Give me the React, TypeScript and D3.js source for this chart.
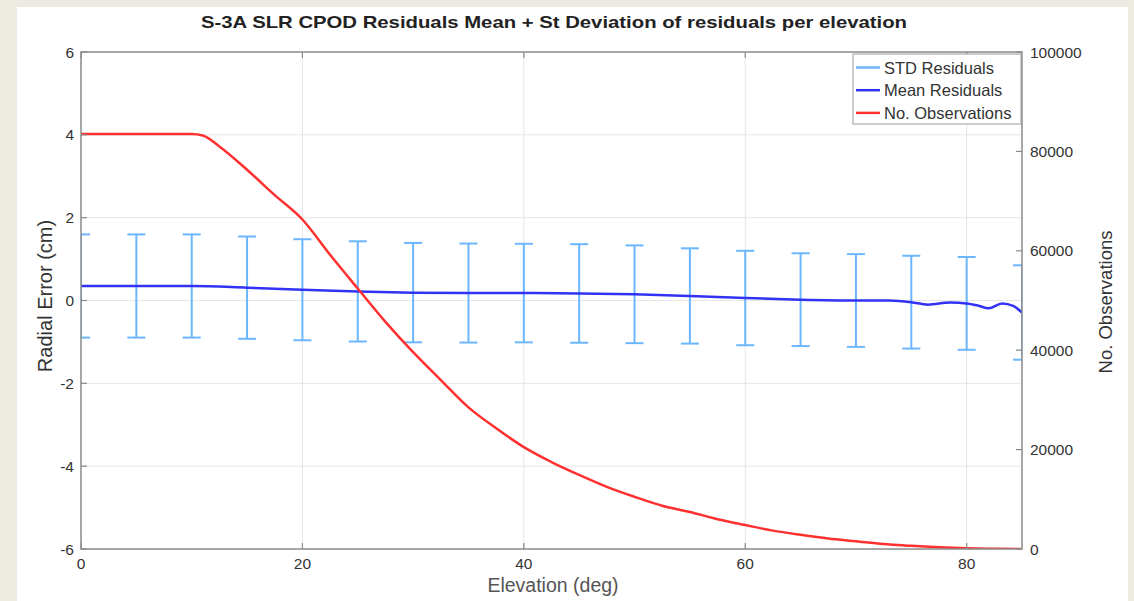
import * as d3 from 'd3';

// elevation (deg) of the error bars, with the std of residuals (cm)
const barElev = [0, 5, 10, 15, 20, 25, 30, 35, 40, 45, 50, 55, 60, 65, 70, 75, 80, 85];
const barStd = [1.245, 1.245, 1.245, 1.235, 1.22, 1.21, 1.2, 1.195, 1.19, 1.19, 1.18, 1.15, 1.14, 1.12, 1.12, 1.12, 1.12, 1.14];

// mean residuals line (cm)
const meanElev = [0, 5, 10, 15, 20, 25, 30, 35, 40, 45, 50, 55, 60, 65, 70, 73, 75, 76.5, 78.5, 80, 81, 82, 83.2, 84.2, 85];
const meanValues = [0.35, 0.35, 0.35, 0.31, 0.26, 0.22, 0.19, 0.18, 0.18, 0.17, 0.15, 0.11, 0.06, 0.02, 0.0, 0.0, -0.04, -0.1, -0.05, -0.07, -0.12, -0.19, -0.07, -0.13, -0.29];

// number of observations per elevation
const obsElev = [0, 5, 10, 11, 12.5, 15, 17.5, 20, 22.5, 25, 27.5, 30, 32.5, 35, 37.5, 40, 42.5, 45, 47.5, 50, 52.5, 55, 57.5, 60, 62.5, 65, 67.5, 70, 72.5, 75, 77.5, 80, 82.5, 85];
const obsValues = [83500, 83500, 83500, 83200, 81000, 76300, 71200, 66300, 59200, 52400, 45700, 39600, 34000, 28500, 24300, 20500, 17500, 14900, 12500, 10500, 8700, 7450, 6000, 4830, 3700, 2850, 2100, 1550, 1000, 650, 350, 150, 50, 0];

const xTicks = [0, 20, 40, 60, 80];
const yLeftTicks = [-6, -4, -2, 0, 2, 4, 6];
const yRightTicks = [0, 20000, 40000, 60000, 80000, 100000];

const legendItems = [
  { label: 'STD Residuals', color: '#6cb6ff' },
  { label: 'Mean Residuals', color: '#3232f5' },
  { label: 'No. Observations', color: '#ff3030' },
];

const W = 1134;
const H = 601;
const left = 81;
const right = 1022;
const top = 52;
const bottom = 549;
const font = 'Liberation Sans, Arial, sans-serif';

export default function App() {
  const x = d3.scaleLinear().domain([0, 85]).range([left, right]);
  const yL = d3.scaleLinear().domain([-6, 6]).range([bottom, top]);
  const yR = d3.scaleLinear().domain([0, 100000]).range([bottom, top]);

  const meanAt = (e: number) => meanValues[meanElev.indexOf(e)];

  const meanLine = d3
    .line<number>()
    .x((_, i) => x(meanElev[i]))
    .y((d) => yL(d))
    .curve(d3.curveMonotoneX)(meanValues)!;

  const obsLine = d3
    .line<number>()
    .x((_, i) => x(obsElev[i]))
    .y((d) => yR(d))
    .curve(d3.curveMonotoneX)(obsValues)!;

  const axisColor = '#8a8a8a';
  const tickLen = 6;

  return (
    <svg
      width={W}
      height={H}
      style={{ position: 'absolute', left: 0, top: 0, display: 'block' }}
      fontFamily={font}
    >
      <defs>
        <clipPath id="plot">
          <rect x={left} y={top} width={right - left} height={bottom - top} />
        </clipPath>
      </defs>
      <rect width={W} height={H} fill="#edeae1" />
      <rect x={17} y={7} width={1111} height={H - 7} fill="#ffffff" />

      <text
        x={554}
        y={28}
        textAnchor="middle"
        fontSize={17}
        fontWeight="bold"
        fill="#222"
        textLength={706}
        lengthAdjust="spacingAndGlyphs"
      >
        S-3A SLR CPOD Residuals Mean + St Deviation of residuals per elevation
      </text>

      {/* grid */}
      {xTicks.slice(1).map((t) => (
        <line key={'gx' + t} x1={x(t)} x2={x(t)} y1={top} y2={bottom} stroke="#e6e6e6" strokeWidth={1} />
      ))}
      {yLeftTicks.slice(1, -1).map((t) => (
        <line key={'gy' + t} x1={left} x2={right} y1={yL(t)} y2={yL(t)} stroke="#e6e6e6" strokeWidth={1} />
      ))}

      <g clipPath="url(#plot)">
        {barElev.map((e, i) => {
          const m = meanAt(e);
          const y1 = yL(m + barStd[i]);
          const y2 = yL(m - barStd[i]);
          const cx = x(e);
          return (
            <g key={'eb' + e} stroke="#6cb6ff" strokeWidth={2} fill="none">
              <line x1={cx} x2={cx} y1={y1} y2={y2} />
              <line x1={cx - 9} x2={cx + 9} y1={y1} y2={y1} />
              <line x1={cx - 9} x2={cx + 9} y1={y2} y2={y2} />
            </g>
          );
        })}
        <path d={meanLine} fill="none" stroke="#3232f5" strokeWidth={2.5} />
        <path d={obsLine} fill="none" stroke="#ff3030" strokeWidth={2.5} />
      </g>

      {/* axes box */}
      <rect x={left} y={top} width={right - left} height={bottom - top} fill="none" stroke={axisColor} strokeWidth={1.5} />

      {xTicks.map((t) => (
        <g key={'xt' + t}>
          <line x1={x(t)} x2={x(t)} y1={bottom} y2={bottom - tickLen} stroke={axisColor} strokeWidth={1.2} />
          <line x1={x(t)} x2={x(t)} y1={top} y2={top + tickLen} stroke={axisColor} strokeWidth={1.2} />
          <text x={x(t)} y={569} textAnchor="middle" fontSize={15.5} fill="#333">
            {t}
          </text>
        </g>
      ))}
      {yLeftTicks.map((t) => (
        <g key={'yl' + t}>
          <line x1={left} x2={left + tickLen} y1={yL(t)} y2={yL(t)} stroke={axisColor} strokeWidth={1.2} />
          <text x={74} y={yL(t) + 5.5} textAnchor="end" fontSize={15.5} fill="#333">
            {t}
          </text>
        </g>
      ))}
      {yRightTicks.map((t) => (
        <g key={'yr' + t}>
          <line x1={right} x2={right - tickLen} y1={yR(t)} y2={yR(t)} stroke={axisColor} strokeWidth={1.2} />
          <text x={1030} y={yR(t) + 5.5} textAnchor="start" fontSize={15.5} fill="#333">
            {t}
          </text>
        </g>
      ))}

      <text x={553} y={592} textAnchor="middle" fontSize={19.5} fill="#555">
        Elevation (deg)
      </text>
      <text transform="translate(52,296) rotate(-90)" textAnchor="middle" fontSize={20} fill="#333">
        Radial Error (cm)
      </text>
      <text transform="translate(1112,302) rotate(-90)" textAnchor="middle" fontSize={18.5} fill="#333">
        No. Observations
      </text>

      {/* legend */}
      <g>
        <rect x={853} y={54} width={168} height={70} fill="#fff" stroke="#9a9a9a" strokeWidth={1} />
        {legendItems.map((d, i) => {
          const ly = 67.5 + i * 22.7;
          return (
            <g key={d.label}>
              <line x1={856} x2={880} y1={ly} y2={ly} stroke={d.color} strokeWidth={2.5} />
              <text x={884} y={ly + 6} fontSize={16.5} fill="#333">
                {d.label}
              </text>
            </g>
          );
        })}
      </g>
    </svg>
  );
}
